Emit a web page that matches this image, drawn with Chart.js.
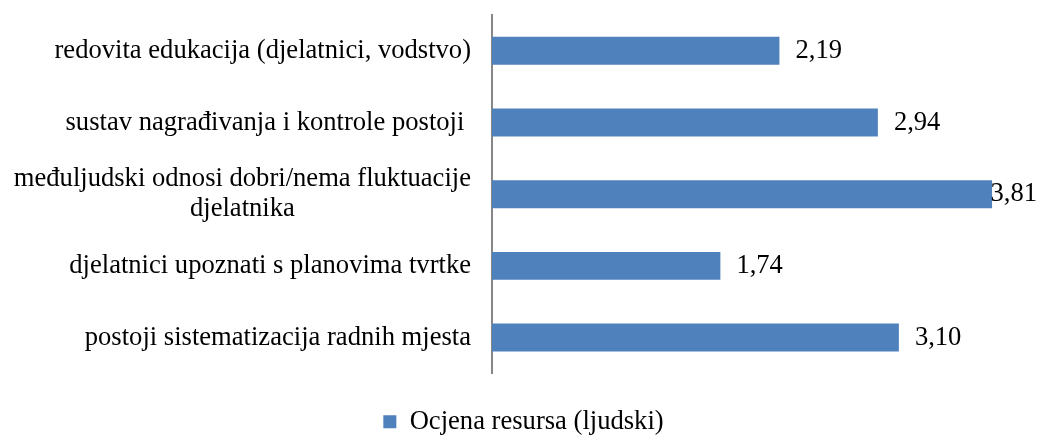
<!DOCTYPE html>
<html>
<head>
<meta charset="utf-8">
<script src="https://cdn.jsdelivr.net/npm/chart.js@4/dist/chart.umd.min.js"></script>
<style>
  html, body { margin: 0; padding: 0; background: #ffffff; }
  #wrap { width: 1039px; height: 437px; position: relative; }
</style>
</head>
<body>
<div id="wrap"><canvas id="c" width="1039" height="437"></canvas></div>
<script>
// Data
const categories = [
  ["redovita edukacija (djelatnici, vodstvo)"],
  ["sustav nagrađivanja i kontrole postoji "],
  ["međuljudski odnosi dobri/nema fluktuacije", "djelatnika"],
  ["djelatnici upoznati s planovima tvrtke"],
  ["postoji sistematizacija radnih mjesta"]
];
const seriesName = "Ocjena resursa (ljudski)";
const seriesValues = [2.19, 2.94, 3.81, 1.74, 3.10];
const xMin = 0;
const xMax = 4;

const FONT = '"Liberation Serif", "Times New Roman", serif';
const FONT_SIZE = 26.6;
const BAR_COLOR = '#4F81BD';

const fmt = v => v.toFixed(2).replace('.', ',');

// Draw category labels (centered multi-line, right-aligned block) at the y-scale tick positions
const categoryLabelPlugin = {
  id: 'categoryLabels',
  afterDraw(chart) {
    const ctx = chart.ctx;
    const y = chart.scales.y;
    const rightEdge = y.right - 21;
    const lineH = 30;
    ctx.save();
    ctx.font = FONT_SIZE + 'px ' + FONT;
    ctx.fillStyle = '#000000';
    ctx.textAlign = 'center';
    ctx.textBaseline = 'middle';
    categories.forEach((lines, i) => {
      const py = y.getPixelForTick(i);
      const maxW = Math.max(...lines.map(l => ctx.measureText(l).width));
      const cx = rightEdge - maxW / 2;
      const startY = py - (lines.length - 1) * lineH / 2;
      lines.forEach((l, j) => ctx.fillText(l, cx, startY + j * lineH));
    });
    ctx.restore();
  }
};

// Value labels at the end of each bar
const valueLabelPlugin = {
  id: 'valueLabels',
  afterDatasetsDraw(chart) {
    const ctx = chart.ctx;
    const meta = chart.getDatasetMeta(0);
    ctx.save();
    ctx.font = FONT_SIZE + 'px ' + FONT;
    ctx.fillStyle = '#000000';
    ctx.textAlign = 'left';
    ctx.textBaseline = 'middle';
    meta.data.forEach((bar, i) => {
      const txt = fmt(seriesValues[i]);
      const w = ctx.measureText(txt).width;
      let x = bar.x + 16;
      if (x + w > chart.width - 2) x = chart.width - 2 - w;
      ctx.fillText(txt, x, bar.y);
    });
    ctx.restore();
  }
};

new Chart(document.getElementById('c'), {
  type: 'bar',
  data: {
    labels: categories,
    datasets: [{
      label: seriesName,
      data: seriesValues,
      backgroundColor: BAR_COLOR,
      borderWidth: 0,
      barPercentage: 0.39,
      categoryPercentage: 1.0
    }]
  },
  options: {
    indexAxis: 'y',
    responsive: false,
    animation: false,
    devicePixelRatio: 1,
    layout: { padding: { left: 30, right: 22, top: 15, bottom: -8 } },
    scales: {
      x: {
        display: false,
        min: xMin,
        max: xMax,
        grid: { display: false }
      },
      y: {
        grid: { display: false, drawTicks: false },
        border: { display: true, color: '#868686', width: 2 },
        ticks: { display: false },
        afterFit(scale) { scale.width = 462; }
      }
    },
    plugins: {
      tooltip: { enabled: false },
      legend: {
        display: true,
        position: 'bottom',
        labels: {
          font: { family: FONT, size: FONT_SIZE },
          color: '#000000',
          boxWidth: 13,
          boxHeight: 13,
          padding: 35
        }
      }
    }
  },
  plugins: [categoryLabelPlugin, valueLabelPlugin]
});
</script>
</body>
</html>
